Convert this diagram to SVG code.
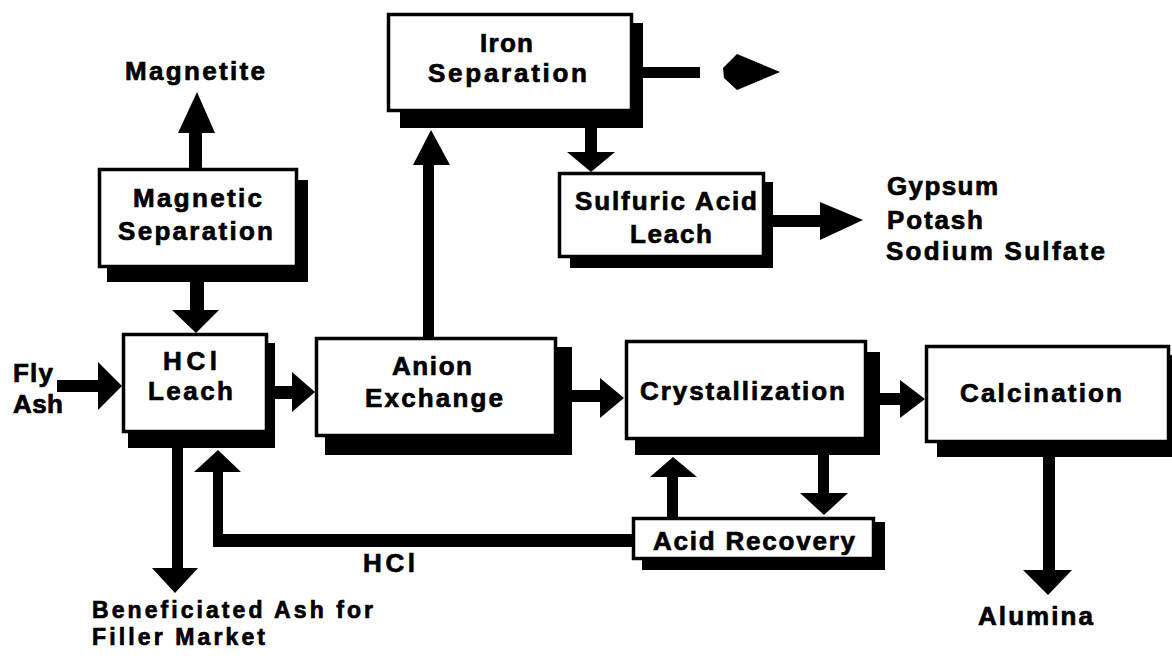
<svg xmlns="http://www.w3.org/2000/svg" width="1172" height="665" viewBox="0 0 1172 665">
<style>
.t{font-family:"Liberation Sans",Arial,Helvetica,sans-serif;font-weight:bold;font-size:26px;fill:#000;stroke:#000;stroke-width:0.7px}
.s{font-size:23px}
.box{fill:#fff;stroke:#000;stroke-width:3.5}
.sh{fill:#000}
.c{fill:#000;stroke:none}
</style>
<rect width="1172" height="665" fill="#fff"/>
<g id="connectors">
  <!-- Magnetic Separation -> Magnetite -->
  <rect class="c" x="189" y="131" width="13" height="39"/>
  <polygon class="c" points="178,133 215,133 197,92"/>
  <!-- Magnetic Separation -> HCl Leach -->
  <rect class="c" x="190" y="280" width="14" height="32"/>
  <polygon class="c" points="172,310 219,310 196,333"/>
  <!-- Fly Ash -> HCl Leach -->
  <rect class="c" x="57" y="380" width="43" height="12"/>
  <polygon class="c" points="98,362 98,410 122,386"/>
  <!-- HCl Leach -> Anion Exchange -->
  <rect class="c" x="273" y="386" width="21" height="13"/>
  <polygon class="c" points="292,372 292,412 315,392"/>
  <!-- Anion Exchange -> Iron Separation -->
  <rect class="c" x="423" y="163" width="11" height="176"/>
  <polygon class="c" points="413,165 450,165 431,130"/>
  <!-- Iron Separation -> out -->
  <rect class="c" x="641" y="67" width="59" height="11"/>
  <polygon class="c" points="723,68 737,54 780,72 737,90 724,78"/>
  <!-- Iron Separation -> Sulfuric Acid Leach -->
  <rect class="c" x="585" y="126" width="12" height="28"/>
  <polygon class="c" points="567,152 615,152 591,172"/>
  <!-- Sulfuric Acid Leach -> products -->
  <rect class="c" x="771" y="215" width="52" height="12"/>
  <polygon class="c" points="820,202 820,240 863,220"/>
  <!-- Anion Exchange -> Crystallization -->
  <rect class="c" x="570" y="390" width="32" height="12"/>
  <polygon class="c" points="600,378 600,418 624,398"/>
  <!-- Crystallization -> Calcination -->
  <rect class="c" x="878" y="393" width="24" height="12"/>
  <polygon class="c" points="900,380 900,418 925,399"/>
  <!-- Calcination -> Alumina -->
  <rect class="c" x="1043" y="455" width="12" height="117"/>
  <polygon class="c" points="1023,570 1072,570 1048,595"/>
  <!-- Crystallization -> Acid Recovery -->
  <rect class="c" x="818" y="453" width="11" height="42"/>
  <polygon class="c" points="800,493 848,493 824,515"/>
  <!-- Acid Recovery -> Crystallization -->
  <rect class="c" x="667" y="475" width="11" height="44"/>
  <polygon class="c" points="650,477 697,477 673,457"/>
  <!-- Acid Recovery -> HCl Leach (HCl return) -->
  <rect class="c" x="213" y="534" width="421" height="13"/>
  <rect class="c" x="213" y="470" width="10" height="77"/>
  <polygon class="c" points="194,472 241,472 218,450"/>
  <!-- HCl Leach -> Beneficiated Ash -->
  <rect class="c" x="172" y="446" width="11" height="124"/>
  <polygon class="c" points="152,568 198,568 175,593"/>
</g>
<g id="magnetic-separation">
  <rect class="sh" x="107" y="180" width="201" height="102"/>
  <rect class="box" x="99.5" y="169.5" width="197" height="97"/>
  <text class="t" x="133" y="207" textLength="129" lengthAdjust="spacing">Magnetic</text>
  <text class="t" x="118" y="240" textLength="155" lengthAdjust="spacing">Separation</text>
</g>
<g id="iron-separation">
  <rect class="sh" x="400" y="23" width="243" height="105"/>
  <rect class="box" x="388.5" y="14.5" width="243" height="96"/>
  <text class="t" x="480" y="52" textLength="53" lengthAdjust="spacing">Iron</text>
  <text class="t" x="428" y="82" textLength="159" lengthAdjust="spacing">Separation</text>
</g>
<g id="sulfuric-acid-leach">
  <rect class="sh" x="570" y="182" width="203" height="86"/>
  <rect class="box" x="559.5" y="173.5" width="204" height="83"/>
  <text class="t" x="575" y="210" textLength="182" lengthAdjust="spacing">Sulfuric Acid</text>
  <text class="t" x="630" y="243" textLength="82" lengthAdjust="spacing">Leach</text>
</g>
<g id="hcl-leach">
  <rect class="sh" x="128" y="343" width="147" height="105"/>
  <rect class="box" x="123.5" y="334.5" width="143" height="97"/>
  <text class="t" x="163" y="370" textLength="54" lengthAdjust="spacing">HCl</text>
  <text class="t" x="148" y="400" textLength="85" lengthAdjust="spacing">Leach</text>
</g>
<g id="anion-exchange">
  <rect class="sh" x="325" y="347" width="247" height="108"/>
  <rect class="box" x="316.5" y="338.5" width="239" height="97"/>
  <text class="t" x="392" y="375" textLength="80" lengthAdjust="spacing">Anion</text>
  <text class="t" x="365" y="407" textLength="138" lengthAdjust="spacing">Exchange</text>
</g>
<g id="crystallization">
  <rect class="sh" x="635" y="352" width="245" height="103"/>
  <rect class="box" x="626.5" y="341.5" width="239" height="97"/>
  <text class="t" x="640" y="400" textLength="205" lengthAdjust="spacing">Crystallization</text>
</g>
<g id="calcination">
  <rect class="sh" x="937" y="355" width="235" height="102"/>
  <rect class="box" x="926.5" y="346.5" width="242" height="95"/>
  <text class="t" x="960" y="402" textLength="162" lengthAdjust="spacing">Calcination</text>
</g>
<g id="acid-recovery">
  <rect class="sh" x="642" y="522" width="243" height="48"/>
  <rect class="box" x="633.5" y="518.5" width="240" height="40"/>
  <text class="t" x="653" y="550" textLength="202" lengthAdjust="spacing">Acid Recovery</text>
</g>
<g id="labels">
  <text class="t" x="125" y="80" textLength="140" lengthAdjust="spacing">Magnetite</text>
  <text class="t" x="13" y="382" textLength="40" lengthAdjust="spacing">Fly</text>
  <text class="t" x="13" y="413" textLength="50" lengthAdjust="spacing">Ash</text>
  <text class="t" x="887" y="195" textLength="111" lengthAdjust="spacing">Gypsum</text>
  <text class="t" x="887" y="229" textLength="96" lengthAdjust="spacing">Potash</text>
  <text class="t" x="886" y="260" textLength="219" lengthAdjust="spacing">Sodium  Sulfate</text>
  <text class="t" x="363" y="572" textLength="52" lengthAdjust="spacing">HCl</text>
  <text class="t s" x="92" y="618" textLength="281" lengthAdjust="spacing">Beneficiated  Ash  for</text>
  <text class="t s" x="92" y="645" textLength="173" lengthAdjust="spacing">Filler  Market</text>
  <text class="t" x="978" y="625" textLength="115" lengthAdjust="spacing">Alumina</text>
</g>
</svg>
